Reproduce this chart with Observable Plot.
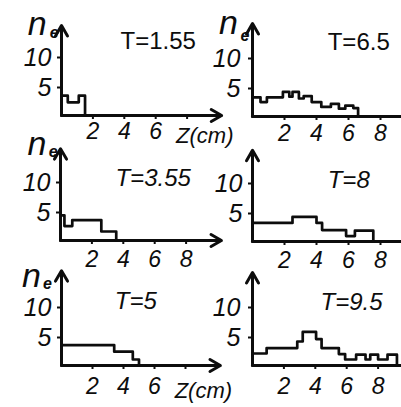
<!DOCTYPE html>
<html>
<head>
<meta charset="utf-8">
<script src="https://cdn.jsdelivr.net/npm/d3@7"></script>
<script src="https://cdn.jsdelivr.net/npm/@observablehq/plot@0.6"></script>
<style>
  body { margin: 0; background: #fff; }
  #chart { position: relative; width: 401px; height: 407px; overflow: hidden; background: #fff; }
  #chart svg { position: absolute; left: 0; top: 0; }
</style>
</head>
<body>
<div id="chart"></div>
<script>
// Temperature of each snapshot
const temperatures = ["1.55", "6.5", "3.55", "8", "5", "9.5"];

// Step edges along z (cm) and electron count n_e on each step
const edgesT155 = [0, 0.4, 1.1, 1.5];
const countsT155 = [3.3, 2.2, 3.3];
const edgesT65 = [0, 0.5, 0.9, 1.9, 2.3, 2.5, 2.9, 3.2, 3.7, 4.3, 4.9, 5.4, 5.8, 6.3, 6.6];
const countsT65 = [3.2, 2.4, 3.2, 4.1, 3.3, 4.1, 3.0, 3.4, 2.4, 1.6, 2.1, 1.3, 1.8, 1.4];
const edgesT355 = [0, 0.25, 0.75, 2.6, 3.55];
const countsT355 = [4.2, 2.4, 3.4, 1.5];
const edgesT8 = [0, 2.5, 4.0, 4.35, 5.85, 6.4, 7.55];
const countsT8 = [3.1, 4.1, 3.1, 1.9, 0.9, 1.8];
const edgesT5 = [0, 3.4, 4.6, 5.0];
const countsT5 = [3.4, 2.3, 1.0];
const edgesT95 = [0, 0.9, 2.85, 3.2, 4.05, 4.4, 5.5, 5.9, 6.6, 7.2, 7.5, 8.0, 8.6, 9.2];
const countsT95 = [2.0, 2.9, 4.0, 5.6, 4.4, 2.9, 1.9, 1.0, 1.8, 1.0, 1.8, 1.0, 1.8];

// Axis ticks
const xTicks = [2, 4, 6, 8];
const yTicks = [5, 10];
const yName = ["n", "e"];
const zName = "Z(cm)";

const W = 401, H = 407;
const FONT = "'Liberation Sans', Arimo, sans-serif";
const INK = "#0d0d0d";

// Layout of the six panels: origin (px), px per cm, px per count, axis lengths, label places
const panels = [
  {t: temperatures[0], edges: edgesT155, counts: countsT155, x0: 61, base: 115, ppc: 15.7, ppu: 6,
   top: 15, end: 10.2, arrowX: true, zLabel: true, title: [3.76, 12.3], italic: false,
   ne: {n: [-2.15, 15.25], e: [-0.75, 13.75]}, xpad: 3, ypad: 6},
  {t: temperatures[1], edges: edgesT65, counts: countsT65, x0: 252, base: 116, ppc: 16, ppu: 6,
   top: 15.5, end: 9.4, arrowX: false, zLabel: false, title: [4.7, 12.3], italic: false,
   ne: {n: [-2.1, 15.6], e: [-0.75, 13.5]}, xpad: 4, ypad: 8},
  {t: temperatures[2], edges: edgesT355, counts: countsT355, x0: 60, base: 240, ppc: 15.7, ppu: 6,
   top: 15.3, end: 10.25, arrowX: true, zLabel: false, title: [3.5, 10.3], italic: true,
   ne: {n: [-2.1, 16.0], e: [-0.75, 14.8]}, xpad: 6, ypad: 6},
  {t: temperatures[3], edges: edgesT8, counts: countsT8, x0: 252, base: 241, ppc: 16, ppu: 6,
   top: 15.2, end: 9.4, arrowX: false, zLabel: false, title: [4.7, 10.2], italic: true,
   ne: null, xpad: 6, ypad: 6},
  {t: temperatures[4], edges: edgesT5, counts: countsT5, x0: 61, base: 365, ppc: 15.5, ppu: 6,
   top: 15.8, end: 10.25, arrowX: true, zLabel: true, title: [3.44, 10.7], italic: true,
   ne: {n: [-2.55, 14.9], e: [-1.2, 13.6]}, xpad: 8, ypad: 6},
  {t: temperatures[5], edges: edgesT95, counts: countsT95, x0: 252, base: 365, ppc: 15.7, ppu: 6,
   top: 15.5, end: 9.5, arrowX: false, zLabel: false, title: [4.33, 10.5], italic: true,
   ne: null, xpad: 8, ypad: 8}
];

function panel(p) {
  const steps = p.edges.map((z, i) => ({z, n: i < p.counts.length ? p.counts[i] : 0}));
  const fs = p.italic ? "italic" : "normal";
  const marks = [];
  if (p.ne) {
    marks.push(
      Plot.text([yName[0]], {x: p.ne.n[0], y: p.ne.n[1], text: d => d, textAnchor: "start",
        lineAnchor: "middle", fontSize: 34, fontFamily: FONT, fontStyle: "italic", fill: INK}),
      Plot.text([yName[1]], {x: p.ne.e[0], y: p.ne.e[1], text: d => d, textAnchor: "start",
        lineAnchor: "middle", fontSize: 16, fontFamily: FONT, fontStyle: "italic", fontWeight: "bold", fill: INK})
    );
  }
  marks.push(
    // y axis with arrow head
    Plot.arrow([{x1: 0, y1: 0, x2: 0, y2: p.top}], {x1: "x1", y1: "y1", x2: "x2", y2: "y2",
      stroke: INK, strokeWidth: 3, headLength: 6, headAngle: 60}),
    // z axis
    Plot.arrow([{x1: 0, y1: 0, x2: p.end, y2: 0}], {x1: "x1", y1: "y1", x2: "x2", y2: "y2",
      stroke: INK, strokeWidth: 3, headLength: p.arrowX ? 6 : 0, headAngle: 60}),
    Plot.axisX(xTicks, {tickSize: 4, tickPadding: p.xpad, strokeWidth: 2, stroke: INK, fill: INK,
      tickFormat: d => (p.zLabel && d === 8) ? "" : String(d),
      fontSize: 23, fontFamily: FONT, fontStyle: "italic", label: null}),
    Plot.axisY(yTicks, {tickSize: 4, tickPadding: p.ypad, strokeWidth: 2, stroke: INK, fill: INK,
      fontSize: 25, fontFamily: FONT, fontStyle: "italic", dy: 2, label: null}),
    // stepped profile n_e(z)
    Plot.line(steps, {x: "z", y: "n", curve: "step-after", stroke: INK, strokeWidth: 2.7,
      strokeLinejoin: "round", strokeLinecap: "round"}),
    Plot.text([p.t], {x: p.title[0], y: p.title[1], text: d => "T=" + d, textAnchor: "start",
      lineAnchor: "middle", fontSize: 24, fontFamily: FONT, fontStyle: fs, fill: INK})
  );
  if (p.zLabel) {
    marks.push(Plot.text([zName], {x: 7.3, y: 0, dy: 13 + p.xpad + 4, text: d => d,
      textAnchor: "start", lineAnchor: "middle", fontSize: 22, fontFamily: FONT, fontStyle: "italic", fill: INK}));
  }
  return Plot.plot({
    width: W, height: H,
    marginLeft: p.x0, marginRight: 0, marginTop: 0, marginBottom: H - p.base,
    style: {background: "transparent", overflow: "visible", fontFamily: FONT, color: INK},
    x: {domain: [0, 1], range: [p.x0, p.x0 + p.ppc]},
    y: {domain: [0, 1], range: [p.base, p.base - p.ppu]},
    marks
  });
}

const root = document.getElementById("chart");
panels.forEach(p => root.appendChild(panel(p)));
</script>
</body>
</html>
